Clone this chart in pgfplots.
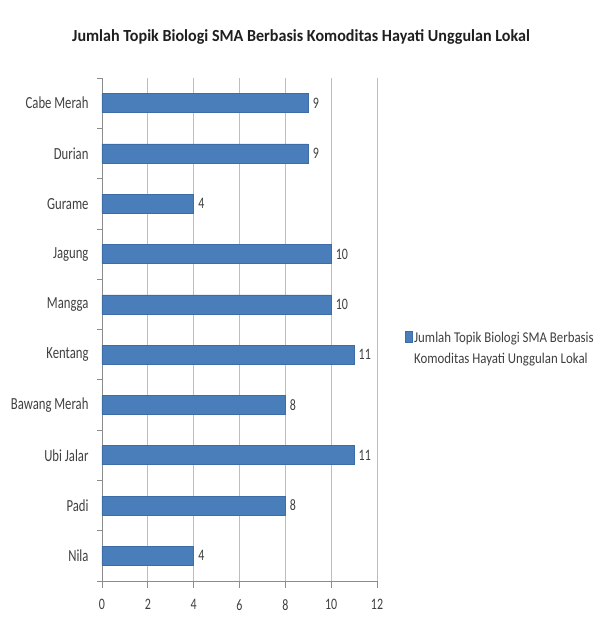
\documentclass[border=0pt]{standalone}
\usepackage{graphicx}
\usepackage{pgfplots}
\pgfplotsset{compat=1.18}
\usepackage{fontspec}
\setmainfont{Carlito}
\definecolor{barblue}{HTML}{4A7EBB}
\definecolor{baredge}{HTML}{3E6CA6}
\definecolor{gridgray}{HTML}{BEBEBE}
\definecolor{axgray}{HTML}{8C8C8C}
\definecolor{txt}{HTML}{404040}
\newcommand\sx[1]{\scalebox{0.75}[1]{#1}}
\begin{document}
\begin{tikzpicture}
\useasboundingbox[fill=white] (-102bp,-44bp) rectangle (498bp,581bp);
\begin{axis}[
  at={(0,0)}, anchor=south west,
  scale only axis, width=275bp, height=503bp,
  /pgf/number format/assume math mode=true,
  xbar, bar width=19bp,
  xmin=0, xmax=12, xtick={0,2,...,12},
  ymin=-0.5, ymax=9.5, y dir=reverse,
  ytick={0,...,9},
  yticklabels={\sx{Cabe Merah}, \sx{Durian}, \sx{Gurame}, \sx{Jagung}, \sx{Mangga}, \sx{Kentang}, \sx{Bawang Merah}, \sx{Ubi Jalar}, \sx{Padi}, \sx{Nila}},
  xticklabel={\sx{\pgfmathprintnumber{\tick}}},
  minor ytick={-0.5,0.5,...,9.5},
  axis x line*=bottom, axis y line*=left,
  axis line style={axgray, line width=0.8bp},
  xmajorgrids, grid style={gridgray, line width=0.8bp},
  major y tick style={draw=none},
  tick align=outside,
  major tick length=7bp, minor tick length=5bp,
  x tick style={axgray, line width=0.8bp},
  minor y tick style={axgray, line width=0.8bp},
  ticklabel style={font=\fontsize{16}{18}\selectfont, text=txt},
  xticklabel style={yshift=-8bp},
  yticklabel style={xshift=-3bp, font=\fontsize{17}{19}\selectfont},
  nodes near coords={\sx{\pgfmathprintnumber{\pgfplotspointmeta}}},
  nodes near coords style={font=\fontsize{16}{18}\selectfont, text=txt, anchor=west, xshift=1bp},
  point meta=x,
  legend style={draw=none, fill=none, inner sep=0pt, at={(1.102,0.51)}, anchor=north west,
    font=\fontsize{15}{22}\selectfont, text=txt, cells={anchor=base west}},
  legend image code/.code={\fill[barblue,draw=baredge,line width=0.4bp] (0bp,-0.5bp) rectangle (6.5bp,11bp);},
]
\addplot[fill=barblue, draw=baredge, line width=0.6bp] coordinates {
 (9,0) (9,1) (4,2) (10,3) (10,4) (11,5) (8,6) (11,7) (8,8) (4,9)
};
\addlegendentry{\scalebox{0.86}[1]{\begin{tabular}[t]{@{}l@{}}Jumlah Topik Biologi SMA Berbasis\\Komoditas Hayati Unggulan Lokal\end{tabular}}}
\end{axis}
\node[font=\bfseries\fontsize{17}{19}\selectfont, text=black!88] at (199bp,544bp) {\scalebox{0.95}[1]{Jumlah Topik Biologi SMA Berbasis Komoditas Hayati Unggulan Lokal}};
\end{tikzpicture}
\end{document}
